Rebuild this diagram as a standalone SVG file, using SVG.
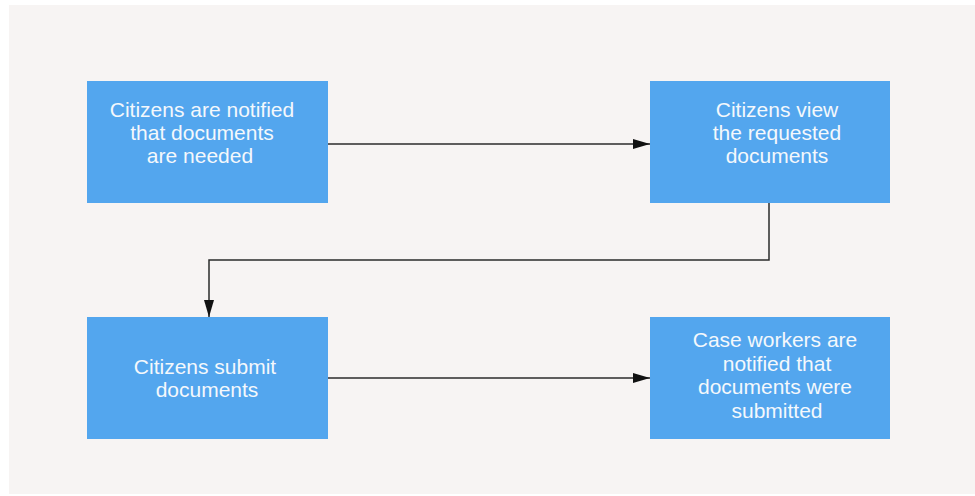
<svg xmlns="http://www.w3.org/2000/svg" width="975" height="496" viewBox="0 0 975 496">
<defs>
<style>
.box{fill:#53a6ee}
.lbl{font-family:"Liberation Sans",Arial,sans-serif;font-size:21px;fill:#f4f8fc;text-anchor:middle}
.conn{fill:none;stroke:#2b2b2b;stroke-width:1.5}
</style>
<marker id="ah" viewBox="0 0 17 10" refX="17" refY="5" markerWidth="17" markerHeight="10" markerUnits="userSpaceOnUse" orient="auto">
<path d="M0,0 L17,5 L0,10 Z" fill="#111"/>
</marker>
</defs>
<rect x="0" y="0" width="975" height="496" fill="#ffffff"/>
<rect x="9" y="5" width="966" height="489" fill="#f7f4f3"/>
<g id="connectors">
<path class="conn" d="M328,144 H650" marker-end="url(#ah)"/>
<path class="conn" d="M769,203 V260 H209 V317" marker-end="url(#ah)"/>
<path class="conn" d="M328,378 H650" marker-end="url(#ah)"/>
</g>
<g id="n1">
<rect class="box" x="87" y="81" width="241" height="122"/>
<text class="lbl"><tspan x="202" y="117">Citizens are notified</tspan><tspan x="202" y="140">that documents</tspan><tspan x="200" y="163">are needed</tspan></text>
</g>
<g id="n2">
<rect class="box" x="650" y="81" width="240" height="122"/>
<text class="lbl"><tspan x="777" y="117">Citizens view</tspan><tspan x="777" y="140">the requested</tspan><tspan x="777" y="163">documents</tspan></text>
</g>
<g id="n3">
<rect class="box" x="87" y="317" width="241" height="122"/>
<text class="lbl"><tspan x="205" y="374">Citizens submit</tspan><tspan x="207" y="397">documents</tspan></text>
</g>
<g id="n4">
<rect class="box" x="650" y="317" width="240" height="122"/>
<text class="lbl"><tspan x="775" y="347">Case workers are</tspan><tspan x="777" y="371">notified that</tspan><tspan x="775" y="394">documents were</tspan><tspan x="777" y="418">submitted</tspan></text>
</g>
</svg>
